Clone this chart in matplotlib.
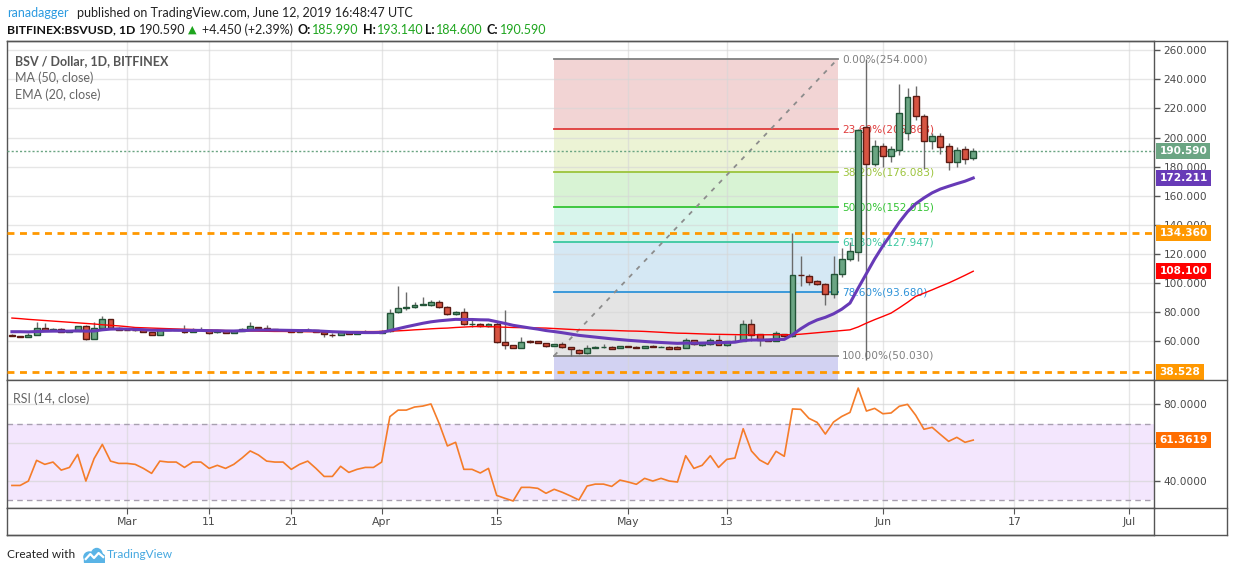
import numpy as np
import pandas as pd
import matplotlib
matplotlib.use('Agg')
import matplotlib.pyplot as plt
import matplotlib.dates as mdates
import matplotlib.transforms as mtransforms
from matplotlib.lines import Line2D
from matplotlib.patches import Ellipse, Polygon

# daily candles, BITFINEX:BSVUSD, 2019-02-15 .. 2019-06-12
opens = [63.9, 63.4, 62.8, 64.1, 69.0, 67.7, 68.3, 66.3, 66.9, 70.3,
         61.4, 69.0, 75.2, 69.2, 67.8, 67.6, 67.6, 66.2, 64.1, 68.3,
         67.9, 67.8, 66.2, 67.8, 67.6, 66.2, 67.1, 65.5, 66.9, 68.3,
         69.7, 69.0, 68.3, 67.6, 67.6, 66.2, 67.6, 67.6, 66.4, 64.4,
         64.1, 66.2, 64.8, 66.2, 66.2, 65.5, 66.7, 79.8, 82.8, 83.4,
         84.8, 84.8, 86.9, 83.4, 78.6, 80.0, 72.0, 72.0, 70.3, 71.7,
         59.3, 57.2, 55.2, 60.2, 59.8, 58.6, 56.6, 57.9, 55.9, 54.0,
         51.7, 55.2, 55.9, 56.1, 55.2, 56.8, 56.1, 55.2, 56.8, 56.1,
         56.1, 56.1, 55.2, 60.7, 57.2, 57.9, 60.7, 57.2, 60.0, 60.0,
         71.7, 64.8, 61.4, 60.0, 64.8, 63.7, 105.6, 104.6, 101.6, 99.5,
         92.4, 106.2, 116.6, 121.1, 207.3, 182.0, 194.2, 187.3, 191.4, 203.4,
         228.7, 214.9, 197.7, 201.1, 194.2, 183.4, 192.3, 185.99]
highs = [64.6, 63.8, 65.5, 73.3, 72.4, 69.3, 68.8, 67.3, 70.6, 71.0,
         73.3, 77.0, 75.5, 70.0, 68.2, 68.0, 67.9, 66.4, 68.6, 68.6,
         68.2, 71.3, 69.0, 69.7, 67.9, 67.2, 67.4, 67.4, 69.3, 73.3,
         70.0, 71.3, 68.5, 67.9, 67.9, 67.4, 69.0, 67.9, 66.7, 65.5,
         66.4, 66.4, 66.4, 67.6, 66.6, 67.6, 82.0, 98.2, 94.0, 86.9,
         90.5, 88.5, 88.0, 84.0, 81.0, 82.5, 74.7, 72.4, 72.4, 73.0,
         81.1, 57.5, 62.6, 60.5, 60.0, 58.8, 58.2, 59.5, 56.1, 54.3,
         57.2, 56.4, 58.0, 56.4, 56.8, 57.0, 56.4, 56.8, 57.7, 56.4,
         56.4, 56.4, 62.0, 61.0, 58.6, 62.5, 64.1, 60.3, 64.1, 74.5,
         75.4, 65.2, 61.6, 67.0, 65.0, 134.4, 118.8, 106.5, 102.0, 99.8,
         118.8, 124.0, 128.0, 206.0, 254.0, 198.0, 196.0, 194.2, 236.8, 234.0,
         235.4, 216.0, 203.4, 203.4, 196.0, 193.7, 194.2, 193.14]
lows = [63.3, 62.7, 62.6, 63.9, 67.0, 67.2, 66.0, 66.1, 66.7, 61.0,
        61.2, 68.8, 68.5, 67.8, 67.4, 67.1, 66.0, 63.9, 63.9, 67.7,
        67.5, 65.9, 66.0, 67.5, 65.2, 65.9, 65.3, 65.3, 66.7, 68.1,
        68.5, 67.1, 67.2, 67.3, 66.0, 66.0, 67.3, 66.0, 63.2, 63.2,
        63.9, 64.6, 64.6, 66.0, 66.0, 65.3, 66.4, 79.3, 81.7, 83.0,
        84.6, 84.5, 83.0, 78.3, 78.3, 71.3, 69.7, 70.0, 70.0, 59.0,
        54.5, 55.0, 55.0, 59.0, 58.4, 56.2, 56.4, 55.6, 49.9, 51.5,
        51.5, 55.0, 55.6, 54.7, 55.0, 55.7, 55.0, 55.0, 55.7, 55.9,
        54.7, 54.7, 55.0, 57.7, 57.0, 57.7, 57.2, 57.0, 59.8, 59.8,
        60.2, 56.5, 59.8, 59.8, 63.2, 63.0, 98.1, 98.5, 98.8, 85.2,
        90.0, 104.0, 115.0, 114.8, 47.0, 180.3, 180.0, 183.4, 188.0, 198.0,
        212.0, 178.6, 191.9, 188.9, 178.0, 180.0, 181.7, 184.6]
closes = [63.6, 63.0, 64.4, 69.0, 67.4, 68.4, 66.2, 67.0, 70.3, 61.6,
          69.0, 75.2, 69.0, 68.0, 67.7, 67.5, 66.2, 64.1, 68.3, 67.9,
          67.8, 66.2, 67.8, 67.9, 65.5, 66.9, 65.5, 67.1, 68.5, 70.6,
          68.8, 67.4, 67.4, 67.5, 66.2, 67.1, 67.6, 66.2, 64.8, 64.3,
          66.2, 64.8, 66.2, 66.2, 66.3, 67.1, 79.3, 82.8, 83.7, 85.0,
          85.7, 86.9, 83.4, 78.6, 80.0, 71.7, 72.0, 70.3, 72.0, 59.3,
          57.2, 55.2, 59.3, 59.3, 58.6, 56.6, 57.9, 55.9, 54.5, 51.7,
          55.2, 56.1, 55.9, 54.9, 56.6, 55.9, 55.2, 56.6, 55.9, 56.1,
          54.9, 54.9, 60.7, 57.9, 58.4, 60.7, 57.5, 60.0, 60.2, 71.7,
          64.4, 60.7, 60.0, 65.5, 63.4, 105.5, 105.2, 100.7, 99.3, 92.1,
          106.2, 116.6, 122.3, 205.2, 182.0, 194.2, 187.3, 191.9, 217.2, 227.6,
          214.9, 197.7, 201.1, 193.7, 183.4, 191.4, 185.4, 190.59]

ma50 = [75.9, 75.5, 75.0, 74.6, 74.2, 73.8, 73.4, 73.0, 72.6, 72.2,
        71.8, 71.3, 70.9, 70.5, 70.0, 69.4, 69.2, 69.0, 68.8, 68.6,
        68.4, 68.2, 68.0, 67.8, 67.6, 67.5, 67.3, 67.2, 67.1, 67.0,
        66.9, 66.8, 66.7, 66.7, 66.6, 66.6, 66.5, 66.5, 66.5, 66.5,
        66.5, 66.5, 66.6, 66.6, 66.6, 66.7, 66.9, 67.1, 67.4, 67.8,
        68.1, 68.5, 68.8, 69.0, 69.4, 69.7, 70.0, 70.1, 70.0, 69.8,
        69.6, 69.4, 69.3, 69.2, 69.1, 69.0, 68.7, 68.4, 68.1, 67.8,
        67.7, 67.6, 67.5, 67.4, 67.2, 67.0, 66.9, 66.7, 66.4, 66.1,
        65.8, 65.5, 65.4, 65.2, 65.0, 64.8, 64.7, 64.6, 64.5, 64.4,
        64.4, 64.4, 64.4, 64.4, 64.4, 64.4, 64.8, 65.3, 65.8, 66.3,
        66.8, 67.3, 67.8, 69.8, 72.4, 74.8, 77.0, 79.3, 82.9, 86.7,
        90.8, 93.0, 95.3, 97.7, 100.0, 102.6, 105.3, 108.1]
ema20 = [66.5, 66.5, 66.4, 66.6, 66.8, 66.9, 66.9, 66.9, 67.1, 66.9,
         67.0, 67.8, 68.3, 68.4, 68.3, 68.1, 67.9, 67.5, 67.5, 67.5,
         67.5, 67.4, 67.4, 67.4, 67.2, 67.2, 67.0, 67.0, 67.2, 67.5,
         67.6, 67.6, 67.6, 67.5, 67.4, 67.3, 67.3, 67.1, 66.8, 66.5,
         66.3, 66.1, 66.0, 65.9, 65.9, 66.0, 67.3, 68.6, 69.9, 71.1,
         72.3, 73.3, 74.0, 74.5, 75.0, 74.9, 74.9, 74.7, 74.6, 73.4,
         72.2, 70.9, 70.0, 69.1, 68.3, 67.3, 66.6, 65.8, 64.9, 64.0,
         63.4, 62.8, 62.2, 61.6, 61.1, 60.6, 60.2, 59.8, 59.4, 59.1,
         58.8, 58.5, 58.7, 58.6, 58.7, 58.8, 59.0, 59.1, 59.3, 60.4,
         60.8, 60.8, 60.8, 61.2, 61.2, 64.4, 68.5, 72.0, 74.6, 76.4,
         78.8, 82.0, 86.2, 96.5, 106.5, 116.5, 125.5, 133.5, 141.8, 149.0,
         154.5, 158.5, 162.0, 164.6, 166.5, 168.3, 170.0, 172.2]
rsi = [37.7, 37.7, 40.0, 50.8, 48.7, 49.9, 45.7, 47.1, 53.9, 40.0,
       51.7, 59.1, 50.4, 49.2, 49.2, 48.7, 46.6, 44.0, 50.4, 49.9,
       49.9, 47.1, 49.9, 49.9, 46.6, 48.2, 46.6, 48.7, 52.0, 55.7,
       53.6, 50.4, 49.9, 49.9, 46.1, 48.7, 50.4, 46.6, 42.4, 42.4,
       47.7, 44.5, 46.1, 47.1, 47.1, 49.9, 73.6, 77.0, 77.0, 78.6,
       79.1, 80.2, 70.0, 58.3, 60.2, 46.1, 46.1, 44.2, 46.6, 32.5,
       31.0, 29.6, 36.7, 36.7, 36.2, 33.6, 35.7, 34.1, 32.2, 30.1,
       37.4, 38.4, 38.4, 37.2, 40.5, 39.5, 38.3, 41.4, 40.0, 41.4,
       40.0, 39.5, 53.2, 46.6, 48.2, 53.2, 47.1, 51.3, 52.0, 67.3,
       55.7, 51.0, 48.7, 55.5, 52.9, 77.6, 77.4, 72.7, 70.6, 64.5,
       70.8, 73.7, 75.8, 88.5, 76.5, 77.9, 75.1, 75.5, 79.0, 80.0,
       74.3, 67.0, 68.0, 64.3, 60.7, 62.8, 60.2, 61.36]

# fibonacci retracement drawn on the chart
fib_start, fib_end = '2019-04-22', '2019-05-26 12:00'
fib_pcts = ['0.00%', '23.60%', '38.20%', '50.00%', '61.80%', '78.60%', '100.00%']
fib_prices = [254.000, 205.868, 176.083, 152.015, 127.947, 93.680, 50.030]
fib_below = -76.0   # 161.8% level, off the chart
fib_line_colors = ['#808080', '#e03c3c', '#9cc43c', '#33c433', '#3cc8a0', '#2f93d8', '#808080']
fib_fill_colors = ['#f2d4d4', '#ecf3d5', '#d8f3d4', '#d8f5ec', '#d5e8f4', '#e4e4e4', '#d2d2f2']

hlines = [134.360, 38.528]
last_price = 190.590

price_ticks = [60, 80, 100, 120, 140, 160, 180, 200, 220, 240, 260]
rsi_ticks = [40, 60, 80]
date_ticks = ['2019-03-01', '2019-03-11', '2019-03-21', '2019-04-01', '2019-04-15',
              '2019-05-01', '2019-05-13', '2019-06-01', '2019-06-17', '2019-07-01']
date_labels = ['Mar', '11', '21', 'Apr', '15', 'May', '13', 'Jun', '17', 'Jul']

W, H = 1234, 572
fig = plt.figure(figsize=(W / 100, H / 100), dpi=100)
fig.patch.set_facecolor('white')

def fx(px):
    return px / W

def fy(py):
    return 1 - py / H

L, R = 7, 1154
ax = fig.add_axes([fx(L), fy(380), fx(R - L), (380 - 41) / H])
rx = fig.add_axes([fx(L), fy(507.5), fx(R - L), (507.5 - 380) / H])
dx = fig.add_axes([fx(L), fy(535), fx(R - L), (535 - 507.5) / H])

x = mdates.date2num(pd.date_range('2019-02-15', periods=len(closes), freq='D'))
xmin = mdates.date2num(pd.Timestamp('2019-02-15')) - 0.6
xmax = mdates.date2num(pd.Timestamp('2019-07-04'))
xt = mdates.date2num(pd.to_datetime(date_ticks))
o, h, l, c = map(np.array, (opens, highs, lows, closes))

border = '#555555'
txtgray = '#4a4a4a'
gridc = '#d6d6d6'

for a in (ax, rx, dx):
    a.set_xlim(xmin, xmax)
    a.set_facecolor('white')
    for s in a.spines.values():
        s.set_color(border)
        s.set_linewidth(1)

# --- main pane ---
ax.set_ylim(33.3, 266.4)
for t in xt:
    ax.axvline(t, color=gridc, lw=1, alpha=0.6, zorder=0.6)
for p in price_ticks:
    ax.axhline(p, color=gridc, lw=1, alpha=0.6, zorder=0.6)

fs = mdates.date2num(pd.Timestamp(fib_start))
fe = mdates.date2num(pd.Timestamp(fib_end))
bounds = fib_prices + [fib_below]
for i in range(len(fib_prices)):
    ax.fill_between([fs, fe], bounds[i + 1], bounds[i], color=fib_fill_colors[i], lw=0, zorder=0.5)
for i, (pct, pr) in enumerate(zip(fib_pcts, fib_prices)):
    ax.plot([fs, fe], [pr, pr], color=fib_line_colors[i], lw=1.3, zorder=1)
    ax.text(fe + 0.55, pr, f'{pct}({pr:.3f})', color=fib_line_colors[i], fontsize=7.6,
            va='center', ha='left', zorder=2)
ax.plot([fs, fe], [fib_prices[-1], fib_prices[0]], color='#8c8c8c', lw=1.3,
        dashes=(2.5, 3.5), zorder=1.2)

for hv in hlines:
    ax.axhline(hv, color='#ff9800', lw=2, dashes=(2.5, 2), zorder=3)
ax.axhline(last_price, color='#6ba583', lw=1, dashes=(1.5, 1.5), zorder=3)

up = c >= o
ax.vlines(x, l, h, color='#6b6b6b', lw=1, zorder=4)
ax.bar(x, np.abs(c - o), bottom=np.minimum(o, c), width=0.72,
       color=np.where(up, '#6ba583', '#d75442'),
       edgecolor=np.where(up, '#225437', '#5b1a13'), linewidth=1, zorder=5)

ax.plot(x, ma50, color='#ff0000', lw=1, zorder=6)
ax.plot(x, ema20, color='#673ab7', lw=2.2, zorder=6)

ax.yaxis.tick_right()
ax.set_yticks(price_ticks)
ax.set_yticklabels([f'{p:.3f}' for p in price_ticks])
ax.tick_params(axis='y', labelsize=7.6, colors=txtgray, length=4, width=1, pad=3)
ax.tick_params(axis='y', color=border)
ax.set_xticks([])

# --- rsi pane ---
rx.set_ylim(26.2, 92.7)
rx.axhspan(30, 70, color='#f3e6fd', lw=0, zorder=0.3)
for t in xt:
    rx.axvline(t, color=gridc, lw=1, alpha=0.6, zorder=0.6)
for p in rsi_ticks:
    rx.axhline(p, color=gridc, lw=1, alpha=0.7, zorder=0.6)
for p in (30, 70):
    rx.axhline(p, color='#a8a0b0', lw=1, dashes=(4, 3), zorder=0.7)
rx.plot(x, rsi, color='#f57c29', lw=1.2, zorder=3)
rx.yaxis.tick_right()
rx.set_yticks(rsi_ticks)
# the 60 label sits under the last-value tag
rx.set_yticklabels([f'{p:.4f}' if p != 60 else '' for p in rsi_ticks])
rx.tick_params(axis='y', labelsize=7.6, colors=txtgray, length=4, width=1, pad=3)
rx.tick_params(axis='y', color=border)
rx.set_xticks([])

# --- date strip ---
dx.set_ylim(0, 1)
dx.set_yticks([])
dx.set_xticks(xt)
dx.xaxis.set_ticks_position('top')
dx.tick_params(axis='x', direction='in', length=4, color=border, labeltop=False, labelbottom=False)
for t, lab in zip(xt, date_labels):
    dx.text(t, 0.47, lab, ha='center', va='center', fontsize=7.8, color=txtgray)

# price tags on the scale
def tag(a, val, text, color):
    tr = mtransforms.blended_transform_factory(a.transAxes, a.transData)
    tr = mtransforms.offset_copy(tr, fig=fig, x=5.5, y=0, units='dots')
    a.text(1.0, val, text, transform=tr, ha='left', va='center', fontsize=7.6,
           fontweight='bold', color='white', clip_on=False, zorder=20,
           bbox=dict(boxstyle='square,pad=0.3', fc=color, ec='none'))

tag(ax, last_price, f'{last_price:.3f}', '#6ba583')
tag(ax, ema20[-1], '172.211', '#673ab7')
tag(ax, hlines[0], f'{hlines[0]:.3f}', '#ff9800')
tag(ax, ma50[-1], '108.100', '#ff0000')
tag(ax, hlines[1], f'{hlines[1]:.3f}', '#ff9800')
tag(rx, rsi[-1], '61.3619', '#ff6d00')

# outer frame around the scale area
for seg in ([(L, 41), (1227, 41)], [(L, 535), (1227, 535)], [(1227, 41), (1227, 535)],
            [(R, 380), (1227, 380)], [(R, 507.5), (1227, 507.5)]):
    (x0, y0), (x1, y1) = seg
    fig.add_artist(Line2D([fx(x0), fx(x1)], [fy(y0), fy(y1)], color=border, lw=1))

# legends
ax.text(0.007, 0.942, 'BSV / Dollar, 1D, BITFINEX', transform=ax.transAxes, fontsize=9,
        fontweight='bold', color='#555555', family='Lato', va='center', zorder=20)
ax.text(0.007, 0.892, 'MA (50, close)', transform=ax.transAxes, fontsize=9,
        color='#666666', family='Lato', va='center', zorder=20)
ax.text(0.007, 0.842, 'EMA (20, close)', transform=ax.transAxes, fontsize=9,
        color='#666666', family='Lato', va='center', zorder=20)
rx.text(0.005, 0.855, 'RSI (14, close)', transform=rx.transAxes, fontsize=9,
        color='#666666', family='Lato', va='center', zorder=20)

# header
hf = 'Lato'
hs = 9
fig.text(fx(7), fy(13), 'ranadagger', color='#2a9ae0', fontsize=hs, family=hf, va='center')
fig.text(fx(77), fy(13), 'published on TradingView.com, June 12, 2019 16:48:47 UTC',
         color='#222222', fontsize=hs, family=hf, va='center')
green = '#1ea51e'
fig.text(fx(7), fy(30), 'BITFINEX:BSVUSD, 1D', color='#111111', fontsize=8.8,
         fontweight='bold', family=hf, va='center')
fig.text(fx(139), fy(30), '190.590', color='#222222', fontsize=hs, family=hf, va='center')
fig.text(fx(188), fy(30), '\u25b2', color=green, fontsize=8, family='DejaVu Sans', va='center')
fig.text(fx(202), fy(30), '+4.450 (+2.39%)', color='#222222', fontsize=hs, family=hf, va='center')
for lab, xp, val, xv in (('O:', 298, '185.990', 312), ('H:', 363, '193.140', 377),
                         ('L:', 425, '184.600', 436), ('C:', 487, '190.590', 500)):
    fig.text(fx(xp), fy(30), lab, color='#111111', fontsize=hs, fontweight='bold',
             family=hf, va='center')
    fig.text(fx(xv), fy(30), val, color=green, fontsize=hs, family=hf, va='center')

# footer
fig.text(fx(7), fy(554), 'Created with', color='#222222', fontsize=8.6, family=hf, va='center')
lax = fig.add_axes([fx(83), fy(563), fx(22), 17 / H])
lax.set_xlim(0, 24)
lax.set_ylim(0, 17)
lax.axis('off')
lax.add_patch(Ellipse((7, 6), 12, 10, color='#5ab4e6'))
lax.add_patch(Ellipse((15, 8), 12, 13, color='#5ab4e6'))
lax.add_patch(Ellipse((20, 5), 8, 8, color='#5ab4e6'))
lax.add_patch(Polygon([(1, 1), (23, 1), (23, 4), (1, 4)], color='#5ab4e6'))
lax.plot([3, 8, 12, 17, 22], [4, 9, 5, 10, 6], color='white', lw=1.6)
fig.text(fx(107), fy(554), 'TradingView', color='#45a8e0', fontsize=8.6, family=hf, va='center')

fig.savefig('out.png', dpi=100, facecolor='white')
